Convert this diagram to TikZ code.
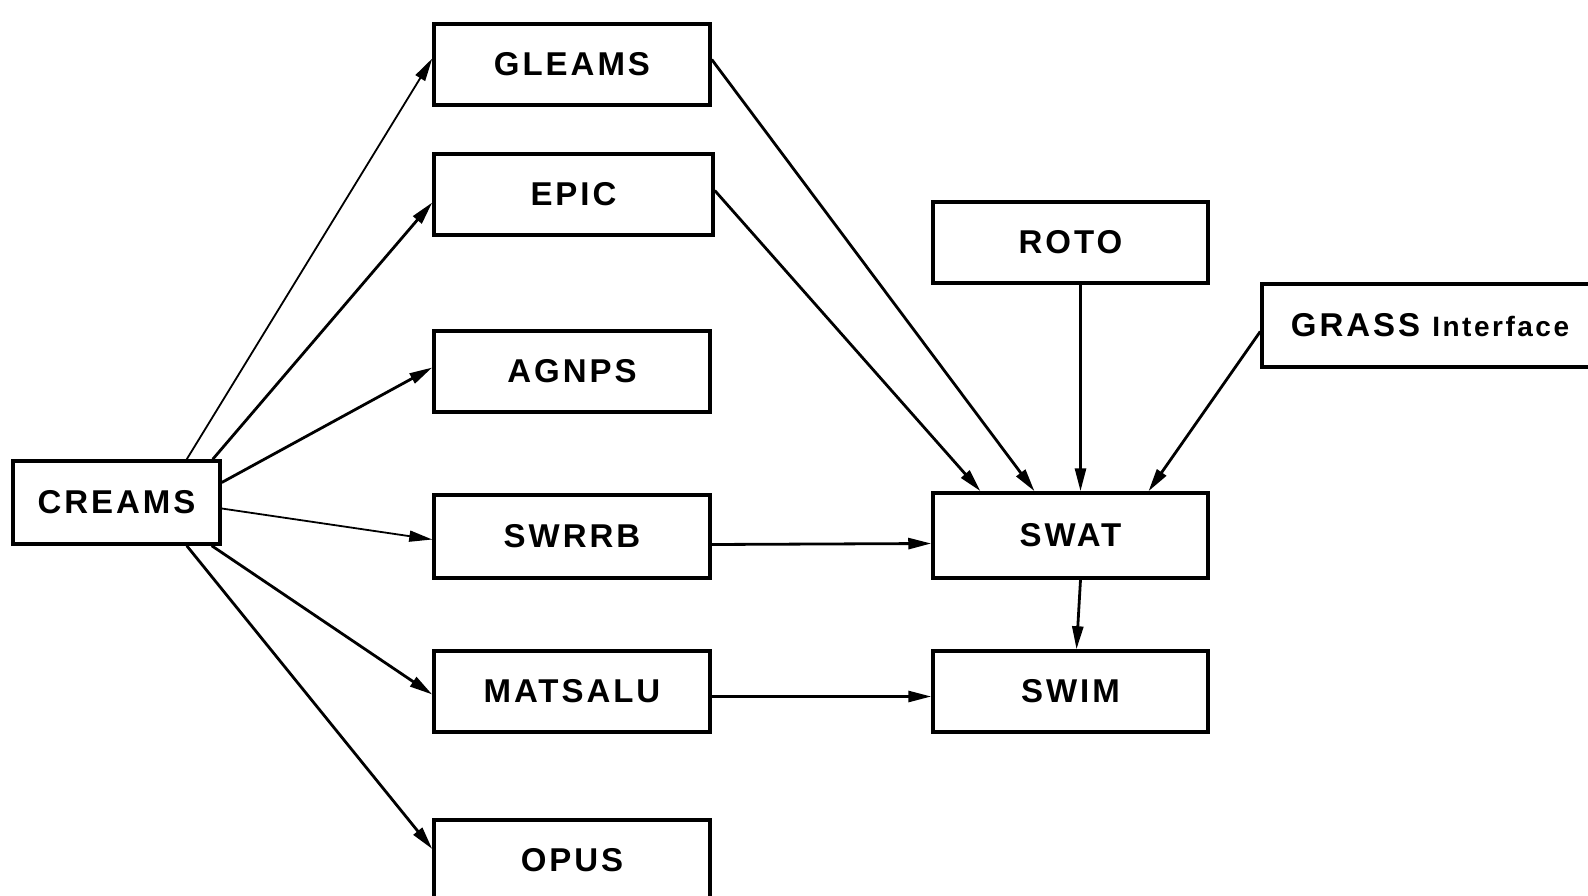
\documentclass[tikz,border=0pt]{standalone}
\usepackage{fontspec}
\usepackage{tikz}
\usetikzlibrary{arrows.meta}
\newfontfamily\modelfont{Liberation Sans}[LetterSpace=9]
\tikzset{
  model box/.style={
    rectangle,
    draw=black,
    line width=3.5pt,
    minimum width=276pt,
    minimum height=81pt,
    inner sep=0pt,
    font=\modelfont\bfseries\fontsize{33}{38}\selectfont,
  },
  model arrow/.style={-{Triangle[length=23pt,width=11pt]}, line width=2.8pt},
  thin arrow/.style={model arrow, line width=1.8pt},
}

\begin{document}
\begin{tikzpicture}[x=1pt,y=-1pt]
  \useasboundingbox (0,0) rectangle (1588,896);

  \node[model box,minimum width=207pt,minimum height=83pt] (creams) at (116.5,502.5) {CREAMS};
  \node[model box] (gleams) at (572,64.5) {GLEAMS};
  \node[model box,minimum width=279pt] (epic) at (573.5,194.5) {EPIC};
  \node[model box] (agnps) at (572,371.5) {AGNPS};
  \node[model box,minimum height=83pt] (swrrb) at (572,536.5) {SWRRB};
  \node[model box] (matsalu) at (572,691.5) {MATSALU};
  \node[model box,minimum height=80pt] (opus) at (572,860) {OPUS};

  \node[model box,minimum width=275pt] (roto) at (1070.5,242.5) {ROTO};
  \node[model box,minimum width=336pt,minimum height=83pt] (grass) at (1430,325.5)
        {GRASS {\fontsize{28}{34}\selectfont Interface}};
  \node[model box,minimum width=275pt,minimum height=85pt] (swat) at (1070.5,535.5) {SWAT};
  \node[model box,minimum width=275pt] (swim) at (1070.5,691.5) {SWIM};

  % fan out of CREAMS
  \draw[thin arrow] ([xshift=-35pt]creams.north east) -- ([yshift=6pt]gleams.west);
  \draw[model arrow] ([xshift=-9pt]creams.north east) -- ([yshift=-8pt]epic.west);
  \draw[model arrow] ([yshift=20pt]creams.east) -- ([yshift=4pt]agnps.west);
  \draw[thin arrow] ([yshift=-6pt]creams.east) -- ([yshift=-3pt]swrrb.west);
  \draw[model arrow] ([xshift=-10pt]creams.south east) -- ([yshift=-3pt]matsalu.west);
  \draw[model arrow] ([xshift=-35pt]creams.south east) -- ([yshift=11pt]opus.west);

  % into SWAT and SWIM
  \draw[model arrow] ([yshift=5pt]gleams.east) -- ([xshift=-36pt]swat.north);
  \draw[model arrow] ([yshift=4pt]epic.east) -- ([xshift=-90pt]swat.north);
  \draw[model arrow] ([xshift=10pt]roto.south) -- ([xshift=10pt]swat.north);
  \draw[model arrow] ([yshift=-6pt]grass.west) -- ([xshift=78pt]swat.north);
  \draw[model arrow] ([yshift=-8pt]swrrb.east) -- ([yshift=-8pt]swat.west);
  \draw[model arrow] ([xshift=10pt]swat.south) -- ([xshift=6pt]swim.north);
  \draw[model arrow] ([yshift=-5pt]matsalu.east) -- ([yshift=-5pt]swim.west);
\end{tikzpicture}
\end{document}
